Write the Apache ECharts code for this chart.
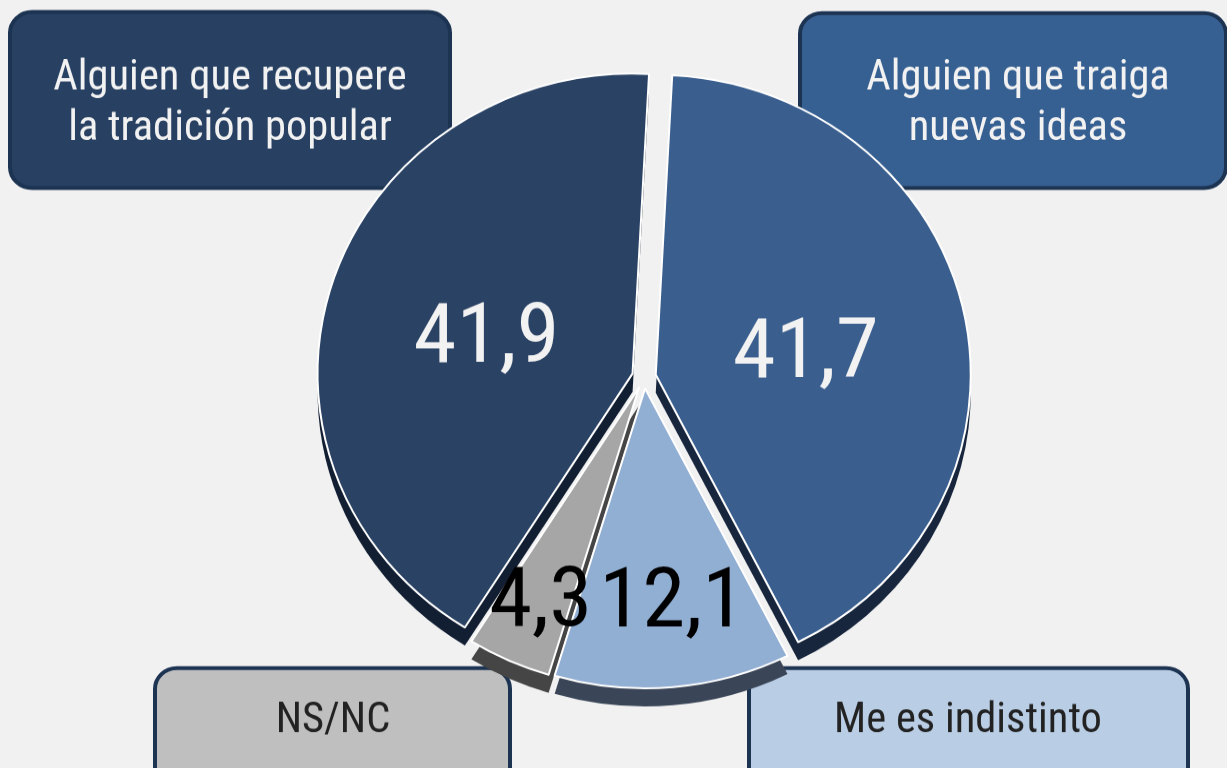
<!DOCTYPE html>
<html>
<head>
<meta charset="utf-8">
<script src="https://cdn.jsdelivr.net/npm/echarts@6/dist/echarts.min.js"></script>
<style>
  html, body { margin: 0; padding: 0; background: #f1f1f1; overflow: hidden; }
  /* slight vertical squash to mimic the tilted 3D pie */
  #chart { width: 1227px; height: 807px; transform: scaleY(0.952); transform-origin: 0 0; }
</style>
</head>
<body>
<div id="chart"></div>
<script>
// Pie data (clockwise from the top)
const categories = ['Alguien que traiga\nnuevas ideas', 'Me es indistinto', 'NS/NC', 'Alguien que recupere\nla tradición popular'];
const values = [41.7, 12.1, 4.3, 41.9];

// Colours
const topColors = ['#3a5f8f', '#91aed3', '#a6a6a6', '#2a4264'];
const sideColors = ['#17263d', '#3a4658', '#454545', '#121f33'];
const boxFill = ['#376092', '#b9cde5', '#bfbfbf', '#284163'];
const labelColors = ['#f2f2f2', '#000000', '#000000', '#f2f2f2'];
// label nudges (Excel put the small ones near the rim)
const labelShift = [[-7, 14], [13, 68], [-32, 82], [7, 14]];

const SY = 0.952;
const FONT = "'Roboto Condensed', 'Liberation Sans Narrow', 'Arial Narrow', Roboto, sans-serif";

function fmt(v) {
    return String(v).replace('.', ',');
}

const chart = echarts.init(document.getElementById('chart'));

const topData = values.map((v, i) => ({
    name: categories[i],
    value: v,
    selected: true,
    itemStyle: { color: topColors[i] },
    label: { color: labelColors[i] }
}));

const sideData = values.map((v, i) => ({
    name: categories[i],
    value: v,
    selected: true,
    itemStyle: { color: sideColors[i] }
}));

// Callout boxes (screen coords, converted for the squash)
const boxes = [
    { x: 800, y: 13, w: 426, h: 175, tx: 1018, ty: 104 },
    { x: 749, y: 668, w: 439, h: 120, tx: 968, ty: 721 },
    { x: 155, y: 668, w: 355, h: 120, tx: 333, ty: 721 },
    { x: 10, y: 12, w: 440, h: 176, tx: 230, ty: 104 }
];
const boxTextColor = ['#f2f2f2', '#222222', '#222222', '#f2f2f2'];

const graphics = boxes.map((b, i) => ({
    type: 'group',
    z: 100,
    children: [
        {
            type: 'rect',
            shape: { x: b.x, y: b.y / SY, width: b.w, height: b.h / SY, r: 22 },
            style: { fill: boxFill[i], stroke: '#1c3352', lineWidth: 4 }
        },
        {
            type: 'text',
            x: b.tx,
            y: b.ty / SY,
            scaleY: 1 / SY,
            style: {
                text: categories[i],
                fill: boxTextColor[i],
                font: '42.5px ' + FONT,
                lineHeight: 51,
                align: 'center',
                verticalAlign: 'middle'
            }
        }
    ]
}));

const option = {
    backgroundColor: '#f1f1f1',
    animation: false,
    graphic: graphics,
    series: [
        {
            // darker copy underneath, gives the 3D side
            type: 'pie',
            z: 1,
            silent: true,
            center: [644, 415],
            radius: 315,
            startAngle: 87,
            selectedMode: 'multiple',
            selectedOffset: 12,
            label: { show: false },
            labelLine: { show: false },
            itemStyle: { borderWidth: 0 },
            data: sideData
        },
        {
            type: 'pie',
            z: 2,
            center: [644, 396],
            radius: 315,
            startAngle: 87,
            selectedMode: 'multiple',
            selectedOffset: 12,
            itemStyle: { borderColor: '#ffffff', borderWidth: 2 },
            label: {
                show: true,
                position: 'inside',
                formatter: p => fmt(p.value),
                fontFamily: FONT,
                fontSize: 87
            },
            labelLine: { show: false },
            labelLayout: p => ({
                dx: labelShift[p.dataIndex][0],
                dy: labelShift[p.dataIndex][1],
                hideOverlap: false
            }),
            emphasis: { disabled: true },
            data: topData
        }
    ]
};

chart.setOption(option);
</script>
</body>
</html>
